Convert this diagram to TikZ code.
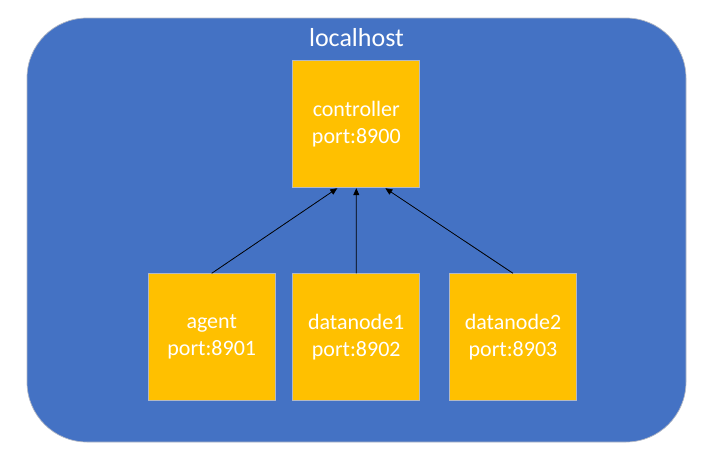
\documentclass[tikz,border=0pt]{standalone}
\usepackage{fontspec}
\setmainfont{Carlito}
\usetikzlibrary{arrows.meta}
\definecolor{hostblue}{HTML}{4472C4}
\definecolor{boxorange}{HTML}{FFC000}
\definecolor{edgegray}{HTML}{B4B9C4}
\tikzset{
  x=1pt, y=-1pt,
  host/.style={fill=hostblue, draw=edgegray, line width=0.7pt, rounded corners=60pt},
  svc/.style={fill=boxorange, draw=edgegray, line width=0.8pt, minimum width=127pt, minimum height=127pt, inner sep=0pt, align=center, text=white, font=\fontsize{22}{27}\selectfont},
  link/.style={draw=black, line width=0.8pt, -{Triangle[length=7pt,width=6pt]}}
}
\begin{document}
\begin{tikzpicture}
\useasboundingbox (0,0) rectangle (702,453);
\path[host] (27,18) rectangle (686,442);
\node[anchor=base, text=white, font=\fontsize{26}{31}\selectfont] (title) at (356.5,46) {localhost};
\node[svc] (controller) at (356.3,124.3) {controller\\port:8900};
\node[svc] (agent) at (211.7,337.2) {agent\\port:8901};
\node[svc] (dn1) at (356.2,337.2) {datanode1\\port:8902};
\node[svc] (dn2) at (513,337.2) {datanode2\\port:8903};
\draw[link] (agent.north) -- ([xshift=-19pt]controller.south);
\draw[link] (dn1.north) -- (controller.south);
\draw[link] (dn2.north) -- ([xshift=29pt]controller.south);
\end{tikzpicture}
\end{document}
